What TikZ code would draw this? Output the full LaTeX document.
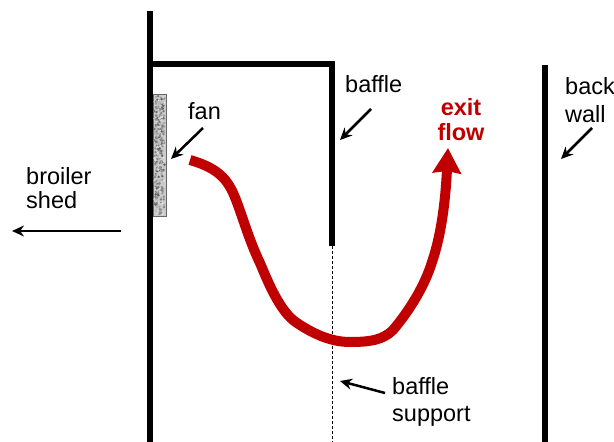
\documentclass[tikz,border=0pt]{standalone}
\usepackage{fontspec}
\setmainfont{Liberation Sans}
\usepackage{xcolor}
\usetikzlibrary{arrows.meta}
\definecolor{flowred}{HTML}{C00000}

\begin{document}
\begin{tikzpicture}[x=1pt, y=-1pt, >=Stealth,
    wall/.style={line width=6pt},
    label/.style={font=\fontsize{23.5}{27.5}\selectfont, align=left, inner sep=0pt, anchor=north west},
    pointer/.style={->, line width=2.5pt, -{Stealth[length=12pt, width=11pt]}}
    ]
        \useasboundingbox (0,0) rectangle (614,442);

        % === FAN (under the wall) ===
        \fill[gray!40, draw=black!60, line width=0.7pt] (153,94) rectangle (166,216);
        \pgfmathsetseed{7}
        \foreach \i in {1,2,...,320} {
            \pgfmathsetmacro{\xs}{154.5 + rnd * 10}
            \pgfmathsetmacro{\ys}{96 + rnd * 118}
            \pgfmathsetmacro{\shade}{int(10 + rnd * 55)}
            \fill[black!\shade] (\xs,\ys) circle (1.3pt);
        }

        % === WALLS ===
        \draw[wall] (150,11) -- (150,442);
        \draw[wall] (147,64) -- (332,64) -- (332,246);
        \draw[wall] (545,65) -- (545,442);

        % === BAFFLE SUPPORT ===
        \draw[line width=0.7pt, densely dashed] (332,246) -- (332,442);

        % === EXIT FLOW ===
        \coordinate (flowstart) at (190,160);
        \coordinate (flowtip) at (448,148);
        \draw[flowred, line width=10pt, -{Stealth[length=25pt, width=28pt, inset=2pt]}]
            (flowstart) .. controls (214,167) and (226,176) .. (234,195)
            .. controls (242,214) and (248,238) .. (260,263)
            .. controls (268,282) and (280,312) .. (297,323)
            .. controls (312,333) and (330,342) .. (350,342)
            .. controls (370,342) and (383,340) .. (393,330)
            .. controls (410,310) and (425,285) .. (432,262)
            .. controls (443,230) and (446,190) .. (flowtip);

        % === LABELS ===
        \node[label] (fan) at (188,102) {fan};
        \node[label] (baffle) at (345,75) {baffle};
        \node[label, flowred, font=\fontsize{23.5}{25}\selectfont\bfseries, align=center, anchor=north] (exit) at (461,98) {exit\\flow};
        \node[label, font=\fontsize{23.5}{28}\selectfont] (backwall) at (565,77) {back\\wall};
        \node[label, font=\fontsize{23.5}{24.5}\selectfont] (shed) at (26,167) {broiler\\shed};
        \node[label, font=\fontsize{23.5}{27}\selectfont] (support) at (392,377) {baffle\\support};

        % === POINTERS ===
        \coordinate (fanfrom) at (203,128);
        \coordinate (fanto) at (171,159);
        \draw[pointer] (fanfrom) -- (fanto);
        \coordinate (bafflefrom) at (371,109);
        \coordinate (baffleto) at (340,140);
        \draw[pointer] (bafflefrom) -- (baffleto);
        \coordinate (backfrom) at (592,128);
        \coordinate (backto) at (561,159);
        \draw[pointer] (backfrom) -- (backto);
        \coordinate (shedfrom) at (121,231);
        \coordinate (shedto) at (12,231);
        \draw[pointer] (shedfrom) -- (shedto);
        \coordinate (supportfrom) at (385,393);
        \coordinate (supportto) at (340,381);
        \draw[pointer] (supportfrom) -- (supportto);
\end{tikzpicture}
\end{document}
